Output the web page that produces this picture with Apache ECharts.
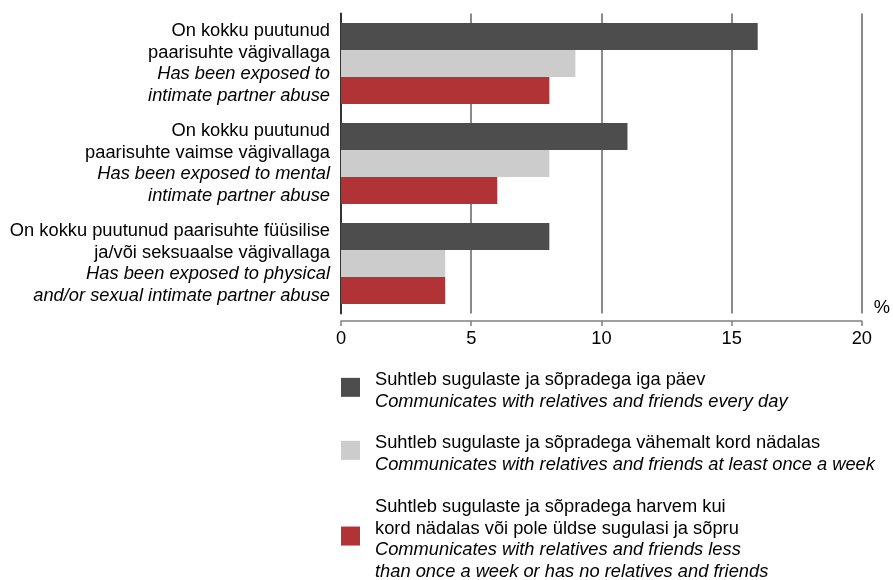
<!DOCTYPE html>
<html>
<head>
<meta charset="utf-8">
<script src="https://cdn.jsdelivr.net/npm/echarts@6/dist/echarts.min.js"></script>
<style>
  html, body { margin: 0; padding: 0; background: #fff; }
  #chart { width: 893px; height: 580px; }
</style>
</head>
<body>
<div id="chart"></div>
<script>
// Category labels: Estonian lines (regular) and English lines (italic)
const categoryEt = [
  ['On kokku puutunud', 'paarisuhte vägivallaga'],
  ['On kokku puutunud', 'paarisuhte vaimse vägivallaga'],
  ['On kokku puutunud paarisuhte füüsilise', 'ja/või seksuaalse vägivallaga']
];
const categoryEn = [
  ['Has been exposed to', 'intimate partner abuse'],
  ['Has been exposed to mental', 'intimate partner abuse'],
  ['Has been exposed to physical', 'and/or sexual intimate partner abuse']
];
const categories = categoryEt.map(l => l.join(' '));

// Series names (Estonian / English)
const seriesEt = [
  ['Suhtleb sugulaste ja sõpradega iga päev'],
  ['Suhtleb sugulaste ja sõpradega vähemalt kord nädalas'],
  ['Suhtleb sugulaste ja sõpradega harvem kui', 'kord nädalas või pole üldse sugulasi ja sõpru']
];
const seriesEn = [
  ['Communicates with relatives and friends every day'],
  ['Communicates with relatives and friends at least once a week'],
  ['Communicates with relatives and friends less', 'than once a week or has no relatives and friends']
];

// Values, %
const dailyValues = [16, 11, 8];
const weeklyValues = [9, 8, 4];
const rarelyValues = [8, 6, 4];

// Axis ticks
const xTicks = [0, 5, 10, 15, 20];

const colors = ['#4d4d4d', '#cccccc', '#b23336'];
const FONT = '"Liberation Sans", Arial, sans-serif';
const FONT_SIZE = 18.3;
const LINE_H = 21.7;

const seriesNames = seriesEt.map(l => l.join(' '));
const seriesValues = [dailyValues, weeklyValues, rarelyValues];

const richStyles = {
  n: { fontSize: FONT_SIZE, fontFamily: FONT, color: '#000', lineHeight: LINE_H },
  i: { fontSize: FONT_SIZE, fontFamily: FONT, color: '#000', fontStyle: 'italic', lineHeight: LINE_H }
};

function twoLanguageText(et, en) {
  return et.map(s => '{n|' + s + '}').join('\n') + '\n' +
         en.map(s => '{i|' + s + '}').join('\n');
}

// One legend block per series, stacked under the plot
const legendTops = [371, 434, 498];
const legends = seriesNames.map((name, k) => ({
  orient: 'vertical',
  left: 341,
  top: legendTops[k],
  padding: 0,
  itemWidth: 19,
  itemHeight: 19,
  icon: 'rect',
  selectedMode: false,
  data: [name],
  formatter: () => twoLanguageText(seriesEt[k], seriesEn[k]),
  textStyle: { padding: [7, 0, 0, 10], rich: richStyles }
}));

const chart = echarts.init(document.getElementById('chart'), null, { renderer: 'canvas' });

chart.setOption({
  animation: false,
  backgroundColor: '#fff',
  grid: { left: 341, right: 28.5, top: 13.5, height: 300, containLabel: false },
  xAxis: {
    type: 'value',
    min: xTicks[0],
    max: xTicks[xTicks.length - 1],
    interval: xTicks[1] - xTicks[0],
    offset: 7.5,
    name: '%',
    nameLocation: 'end',
    nameGap: 20,
    nameTextStyle: {
      fontSize: FONT_SIZE, fontFamily: FONT, color: '#000',
      align: 'center', verticalAlign: 'bottom', padding: [0, 0, 4, 0]
    },
    axisLine: { show: true, lineStyle: { color: '#808080', width: 1.5 } },
    axisTick: { show: true, length: 5, lineStyle: { color: '#808080', width: 1.5 } },
    axisLabel: { fontSize: FONT_SIZE, fontFamily: FONT, color: '#000', margin: 9 },
    splitLine: { show: true, lineStyle: { color: '#8a8a8a', width: 2 } }
  },
  yAxis: {
    type: 'category',
    data: categories,
    inverse: true,
    axisLine: { show: true, lineStyle: { color: '#333', width: 2 } },
    axisTick: { show: false },
    axisLabel: {
      margin: 11,
      align: 'right',
      formatter: (value, idx) => twoLanguageText(categoryEt[idx], categoryEn[idx]),
      rich: richStyles
    }
  },
  legend: legends,
  series: seriesNames.map((name, k) => ({
    name: name,
    type: 'bar',
    data: seriesValues[k],
    barWidth: 27,
    barGap: '0%',
    itemStyle: { color: colors[k] },
    z: 3
  }))
});
</script>
</body>
</html>
